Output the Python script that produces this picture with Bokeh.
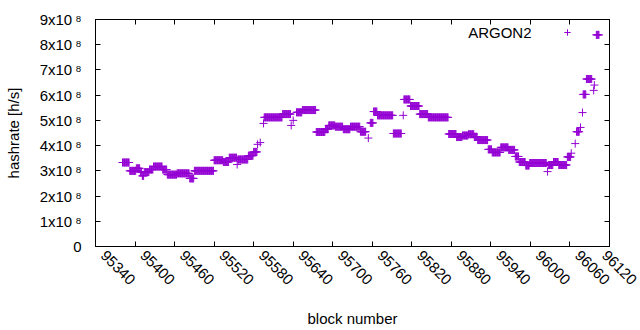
from bokeh.plotting import figure
from bokeh.models import (Range1d, FixedTicker, LinearAxis, Label,
                          ColumnDataSource, Legend, LegendItem)
from bokeh.embed import file_html
from bokeh.resources import INLINE
import math

# ---- data: runs of consecutive blocks sharing a hashrate ----
run_start = [95381, 95392, 95402, 95408, 95411, 95414, 95422, 95428, 95442, 95449,
             95464, 95483, 95490, 95520, 95534, 95543, 95555, 95556, 95572, 95580,
             95586, 95590, 95595, 95596, 95624, 95637, 95640, 95645, 95654, 95675,
             95689, 95694, 95704, 95716, 95727, 95742, 95754, 95757, 95762, 95768,
             95792, 95807, 95808, 95818, 95832, 95845, 95876, 95888, 95897, 95906,
             95915, 95920, 95936, 95942, 95955, 95967, 95977, 95983, 95993, 95999,
             96026, 96027, 96035, 96043, 96056, 96062, 96068, 96070, 96076, 96079,
             96080, 96085, 96096, 96097, 96100]
run_end = [95391, 95401, 95407, 95410, 95413, 95421, 95427, 95441, 95448, 95463,
           95482, 95489, 95519, 95533, 95542, 95554, 95555, 95571, 95579, 95585,
           95586, 95590, 95595, 95623, 95636, 95637, 95640, 95653, 95674, 95688,
           95693, 95703, 95715, 95726, 95741, 95750, 95754, 95761, 95767, 95791,
           95804, 95807, 95817, 95831, 95844, 95875, 95887, 95896, 95905, 95914,
           95919, 95935, 95941, 95954, 95966, 95976, 95982, 95992, 95998, 96024,
           96026, 96034, 96042, 96055, 96061, 96062, 96068, 96074, 96076, 96079,
           96084, 96093, 96096, 96097, 96104]
run_rate_e8 = [3.33, 3.00, 3.10, 2.95, 2.80, 2.95, 3.05, 3.17, 3.05, 2.85,
               2.90, 2.70, 3.00, 3.42, 3.35, 3.52, 3.25, 3.45, 3.60, 3.75,
               4.05, 4.12, 4.88, 5.12, 5.25, 4.80, 5.00, 5.32, 5.41, 4.54,
               4.65, 4.80, 4.75, 4.65, 4.75, 4.55, 4.30, 4.90, 5.35, 5.20,
               4.48, 5.20, 5.83, 5.57, 5.25, 5.12, 4.46, 4.34, 4.40, 4.45,
               4.35, 4.22, 3.85, 3.73, 3.93, 3.83, 3.57, 3.35, 3.21, 3.31,
               2.97, 3.23, 3.35, 3.23, 3.55, 3.70, 4.08, 4.55, 4.72, 5.31,
               6.03, 6.64, 6.19, 6.40, 8.39]

series_name = "ARGON2"
x_ticks = [95340, 95400, 95460, 95520, 95580, 95640, 95700, 95760, 95820,
           95880, 95940, 96000, 96060, 96120]
y_ticks = [0, 1e8, 2e8, 3e8, 4e8, 5e8, 6e8, 7e8, 8e8, 9e8]
y_tick_labels = ["0", "1x10\u2009\u2078", "2x10\u2009\u2078", "3x10\u2009\u2078",
                 "4x10\u2009\u2078", "5x10\u2009\u2078", "6x10\u2009\u2078",
                 "7x10\u2009\u2078", "8x10\u2009\u2078", "9x10\u2009\u2078"]

blocks, rates = [], []
for s, e, r in zip(run_start, run_end, run_rate_e8):
    for b in range(s, e + 1):
        blocks.append(b)
        rates.append(r * 1e8)

FONT = "Liberation Sans"
PURPLE = "#9400d3"
PAD = "\u2007\u2009"  # leading blank so rotated labels begin at their tick, as in gnuplot

p = figure(width=640, height=330, x_range=Range1d(95340, 96120), y_range=Range1d(0, 9e8),
           output_backend="svg", toolbar_location=None,
           min_border_left=95, min_border_right=31, min_border_top=19, min_border_bottom=84)
p.background_fill_color = "white"
p.border_fill_color = "white"
p.outline_line_color = "black"
p.outline_line_width = 1
p.xgrid.visible = False
p.ygrid.visible = False

src = ColumnDataSource(dict(x=blocks, y=rates))
r = p.scatter("x", "y", source=src, marker="cross", size=8, line_color=PURPLE, line_width=1)

# bottom axis
xa = p.xaxis[0]
xa.ticker = FixedTicker(ticks=x_ticks)
xa.major_label_overrides = {t: PAD + str(t) for t in x_ticks}
xa.major_label_orientation = -math.pi / 4
xa.major_tick_in = 5
xa.major_tick_out = 0
xa.minor_tick_line_color = None
xa.major_label_text_font = FONT
xa.major_label_text_font_size = "15px"
xa.major_label_text_color = "black"
xa.major_label_standoff = -2
xa.axis_label = "block number"
xa.axis_label_text_font = FONT
xa.axis_label_text_font_size = "15px"
xa.axis_label_text_font_style = "normal"
xa.axis_label_text_color = "black"
xa.axis_label_standoff = 13
xa.axis_line_color = "black"

# left axis
ya = p.yaxis[0]
ya.ticker = FixedTicker(ticks=y_ticks)
ya.major_label_overrides = {t: s for t, s in zip(y_ticks, y_tick_labels)}
ya.major_tick_in = 5
ya.major_tick_out = 0
ya.minor_tick_line_color = None
ya.major_label_text_font = FONT
ya.major_label_text_font_size = "15px"
ya.major_label_text_color = "black"
ya.major_label_standoff = 14
ya.axis_label = "hashrate [h/s]"
ya.axis_label_text_font = FONT
ya.axis_label_text_font_size = "15px"
ya.axis_label_text_font_style = "normal"
ya.axis_label_text_color = "black"
ya.axis_label_standoff = 15
ya.axis_line_color = "black"

# mirrored ticks on top and right
top = LinearAxis(ticker=FixedTicker(ticks=x_ticks), major_tick_in=5, major_tick_out=0,
                 minor_tick_line_color=None, major_label_text_font_size="0px",
                 major_label_standoff=0, axis_line_color="black")
right = LinearAxis(ticker=FixedTicker(ticks=y_ticks), major_tick_in=5, major_tick_out=0,
                   minor_tick_line_color=None, major_label_text_font_size="0px",
                   major_label_standoff=0, axis_line_color="black")
p.add_layout(top, "above")
p.add_layout(right, "right")

# key: text then sample, gnuplot style
p.add_layout(Label(x=436, y=214, x_units="screen", y_units="screen", text=series_name,
                   text_font=FONT, text_font_size="15px", text_color="black",
                   text_align="right", text_baseline="middle"))
legend = Legend(items=[LegendItem(label=" ", renderers=[r])], location=(464, 206),
                glyph_width=16, glyph_height=16, padding=0, margin=0, spacing=0,
                label_width=0, label_height=16, label_standoff=0,
                border_line_color=None, background_fill_alpha=0,
                label_text_font_size="1px")
p.add_layout(legend)

open("out.html", "w").write(file_html(p, INLINE))
